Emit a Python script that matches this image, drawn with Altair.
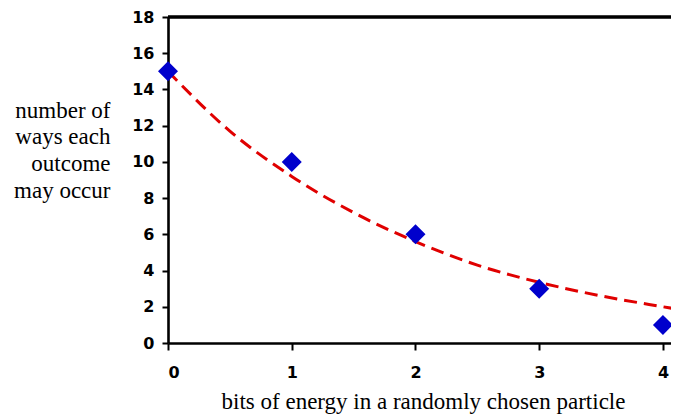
import altair as alt
import pandas as pd

# observed points
bits = [0, 1, 2, 3, 4]
ways = [15, 10, 6, 3, 1]

# dashed trend curve
curve_x = [0, 0.5, 1, 1.5, 2, 2.5, 3, 3.5, 4, 4.13]
curve_y = [15.0, 11.7, 9.2, 7.2, 5.6, 4.3, 3.35, 2.6, 2.0, 1.85]

x_ticks = [0, 1, 2, 3, 4]
y_ticks = [0, 2, 4, 6, 8, 10, 12, 14, 16, 18]

pts = pd.DataFrame({"x": bits, "y": ways})
crv = pd.DataFrame({"x": curve_x, "y": curve_y})

W, H = 503, 326
XMAX = 4.065

xs = alt.Scale(domain=[0, XMAX], nice=False, zero=False)
ys = alt.Scale(domain=[0, 18], nice=False)

x_axis = alt.Axis(
    values=x_ticks, format="d", grid=False, domainColor="black", domainWidth=2.6,
    tickColor="black", tickWidth=2, tickSize=7, labelPadding=14, labelOverlap=False,
    labelFont="DejaVu Sans", labelFontWeight="bold", labelFontSize=16, labelColor="black",
    title="bits of energy in a randomly chosen particle",
    titleFont="Liberation Serif", titleFontSize=23, titleFontWeight="normal", titleColor="black",
    titleBaseline="alphabetic", titleY=65, titleX=255, titleAlign="center", zindex=0,
)
y_axis = alt.Axis(
    values=y_ticks, format="d", grid=False, domainColor="black", domainWidth=2.6,
    tickColor="black", tickWidth=2, tickSize=6, labelPadding=8, labelOverlap=False,
    labelFont="DejaVu Sans", labelFontWeight="bold", labelFontSize=16, labelColor="black",
    title=["number of", "ways each", "outcome", "may occur"],
    titleFont="Liberation Serif", titleFontSize=23, titleFontWeight="normal", titleColor="black",
    titleAngle=0, titleAlign="right", titleBaseline="alphabetic", titleLineHeight=26.7,
    titleX=-58, titleY=100, zindex=0,
)

line = alt.Chart(crv).mark_line(
    color="#e00000", strokeWidth=3, strokeDash=[13, 7], interpolate="monotone", clip=True
).encode(
    x=alt.X("x:Q", scale=xs, axis=x_axis),
    y=alt.Y("y:Q", scale=ys, axis=y_axis),
)

points = alt.Chart(pts).mark_point(
    shape="diamond", filled=True, size=400, color="#0000cc", opacity=1
).encode(
    x=alt.X("x:Q", scale=xs, axis=x_axis),
    y=alt.Y("y:Q", scale=ys, axis=y_axis),
)

top = alt.Chart(pts).mark_rule(color="black", strokeWidth=2.6).encode(
    x=alt.value(0), x2=alt.value(W), y=alt.value(0)
)

chart = alt.layer(line, top, points).properties(
    width=W, height=H,
    autosize=alt.AutoSizeParams(type="none"),
    padding={"left": 160, "top": 9, "right": 0, "bottom": 71},
).configure_view(stroke=None).configure(background="white")

chart.save("out.html", embed_options={"renderer": "svg", "actions": False})
